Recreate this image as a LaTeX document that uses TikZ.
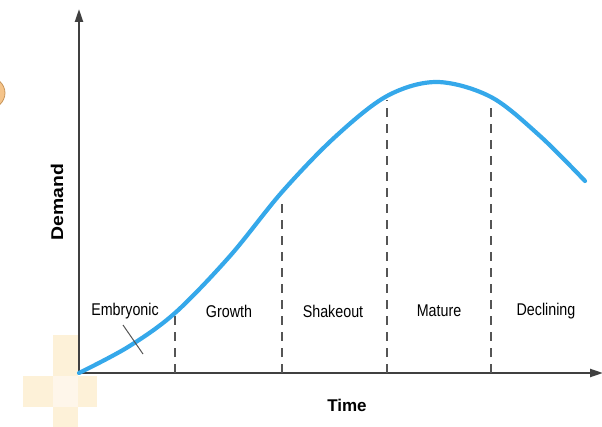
\documentclass[tikz,border=0pt]{standalone}
\usepackage{fontspec}
\setmainfont{Liberation Sans}
\newfontfamily\narrowfont[FakeStretch=0.84]{Liberation Sans}
\newfontfamily\wideboldfont[FakeStretch=1.14]{Liberation Sans}
\usetikzlibrary{arrows.meta}
\definecolor{axisgray}{HTML}{404040}
\definecolor{dashgray}{HTML}{555555}
\definecolor{curveblue}{HTML}{35A8EA}
\definecolor{cream}{HTML}{FDF1D8}
\definecolor{creamlight}{HTML}{FEF6EA}
\definecolor{peach}{HTML}{F5C48A}
\definecolor{peachedge}{HTML}{C8955A}
\tikzset{
  axisline/.style={draw=axisgray, line width=2.2pt, -{Triangle[length=13pt,width=8pt]}},
  divider/.style={draw=dashgray, line width=2.2pt, dash pattern=on 9pt off 7pt},
  phase/.style={font=\narrowfont\fontsize{17}{19}\selectfont, inner sep=0pt, text=black},
  axislabel/.style={font=\bfseries\fontsize{17}{19}\selectfont, inner sep=0pt, text=black},
  demandcurve/.style={draw=curveblue, line width=4.2pt, line cap=round},
  leader/.style={draw=dashgray, line width=1pt}
}
\begin{document}
\begin{tikzpicture}[x=1pt,y=-1pt]
\useasboundingbox (0,0) rectangle (602,427);
% decorations
\begin{scope}
\clip (0,0) rectangle (602,427);
\fill[peach, draw=peachedge, line width=0.8pt] (-12,93) ellipse (17 and 16);
\end{scope}
\fill[cream] (53,335) rectangle (78,427);
\fill[cream] (23,376) rectangle (97,407);
\fill[creamlight] (53,376) rectangle (78,407);
% axes
\coordinate (O) at (79,373);
\coordinate (ytip) at (79,9);
\coordinate (xtip) at (603,373);
\path[axisline] (O) -- (ytip);
\path[axisline] (O) -- (xtip);
% dividers
\coordinate (b2) at (175,373);
\coordinate (b4) at (282,373);
\coordinate (b6) at (387,373);
\coordinate (b8) at (491,373);
\coordinate (t2) at (175,313);
\coordinate (t4) at (282,197);
\coordinate (t6) at (387,100);
\coordinate (t8) at (491,101);
\path[divider] (b2) -- (t2);
\path[divider] (b4) -- (t4);
\path[divider] (b6) -- (t6);
\path[divider] (b8) -- (t8);
% curve
\path[demandcurve] plot[smooth, tension=0.55] coordinates {(79,373) (128,347) (175,313) (230,256) (282,192) (335,137) (387,96) (437,82) (491,97) (540,136) (585,181)};
% labels
\node[phase] (emb) at (125,311) {Embryonic};
\node[phase] (gro) at (229,311) {Growth};
\node[phase] (sha) at (333,311) {Shakeout};
\node[phase] (mat) at (439,311) {Mature};
\node[phase] (dec) at (546,311) {Declining};
\coordinate (ls) at (123,325);
\coordinate (le) at (143,354);
\path[leader] (ls) -- (le);
\node[axislabel, font=\wideboldfont\bfseries\fontsize{17}{19}\selectfont, rotate=90] (dem) at (57,202) {Demand};
\node[axislabel] (tim) at (347,405) {Time};
\end{tikzpicture}
\end{document}
